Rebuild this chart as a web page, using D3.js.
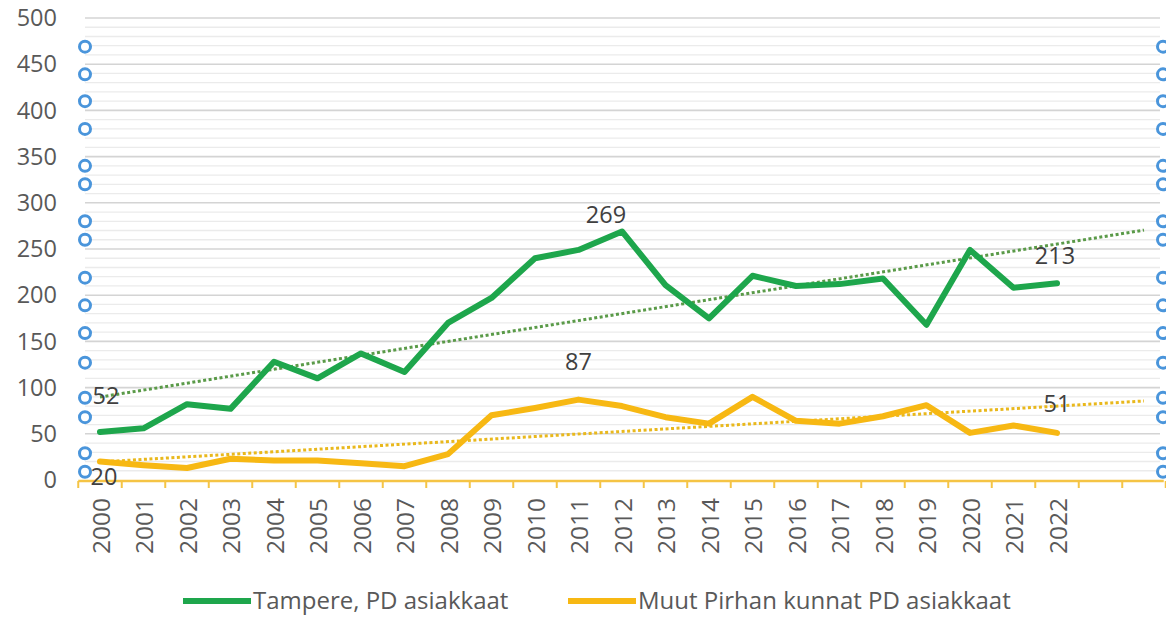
<!DOCTYPE html>
<html><head><meta charset="utf-8">
<script src="https://cdn.jsdelivr.net/npm/d3@7/dist/d3.min.js"></script>
<style>
body{margin:0;background:#fff;}
svg{display:block;font-family:"Open Sans",sans-serif;}
</style></head>
<body><svg id="c" width="1166" height="617"></svg>
<script>
// ---- data ----
const years = ["2000","2001","2002","2003","2004","2005","2006","2007","2008","2009","2010","2011","2012","2013","2014","2015","2016","2017","2018","2019","2020","2021","2022"];
const forecastSlots = ["2023","2024"]; // empty category slots used by trendline forecast
const tampere = [52,56,82,77,128,110,137,117,170,197,240,249,269,211,175,221,210,212,218,168,249,208,213];
const muut = [20,16,13,23,21,21,18,15,28,70,78,87,80,68,61,90,64,61,69,81,51,59,51];
const yTicks = [0,50,100,150,200,250,300,350,400,450,500];
const seriesNames = ["Tampere, PD asiakkaat","Muut Pirhan kunnat PD asiakkaat"];
const seriesColors = ["#1ea64c","#f7b813"];
const trendColors = ["#5a9a48","#e9b81c"];
// odd circle markers along both edges (values on the y scale)
const edgeMarks = [469,439,410,380,340,320,280,260,219,189,159,127,89,68,29,9];
// data labels: series index, year index, label dx/dy offsets
const labelPts = [
  {s:0,i:0,dx:6,dy:-36},
  {s:1,i:0,dx:4,dy:15},
  {s:0,i:12,dx:-16,dy:-17},
  {s:1,i:11,dx:0,dy:-38},
  {s:0,i:22,dx:-2,dy:-27},
  {s:1,i:22,dx:0,dy:-29}
];

const svg = d3.select("#c");
const allCats = years.concat(forecastSlots);
const x = d3.scaleBand().domain(allCats).range([78.25, 78.25 + 43.5*allCats.length]);
const cx = d => x(d) + x.bandwidth()/2;
const y = d3.scaleLinear().domain([0,500]).range([480,18]);

// gridlines
const minor = d3.range(0,501,10).filter(v => v % 50 !== 0);
svg.append("g").selectAll("line").data(minor).join("line")
  .attr("x1",85).attr("x2",1160).attr("y1",d=>y(d)).attr("y2",d=>y(d))
  .attr("stroke","#ebebeb").attr("stroke-width",1.3);
svg.append("g").selectAll("line").data(yTicks.filter(v=>v>0)).join("line")
  .attr("x1",85).attr("x2",1160).attr("y1",d=>y(d)).attr("y2",d=>y(d))
  .attr("stroke","#d4d4d4").attr("stroke-width",1.6);

// y axis labels
svg.append("g").selectAll("text").data(yTicks).join("text")
  .attr("x",57).attr("y",d=>y(d)).attr("dy","0.35em")
  .attr("text-anchor","end").attr("font-size",23.5).attr("fill","#595959")
  .text(d=>d);

// x axis
const xAxis = svg.append("g").attr("transform","translate(0,481)");
xAxis.append("line").attr("x1",x.range()[0]).attr("x2",x.range()[1]-2)
  .attr("stroke","#f5c445").attr("stroke-width",2.5);
xAxis.selectAll("line.tk").data(allCats.concat(["end"])).join("line").attr("class","tk")
  .attr("x1",(d,i)=>x.range()[0]+i*x.step()).attr("x2",(d,i)=>x.range()[0]+i*x.step())
  .attr("y1",0).attr("y2",7).attr("stroke","#f5c445").attr("stroke-width",2);
xAxis.selectAll("text").data(years).join("text")
  .attr("transform",d=>`translate(${cx(d)+1},17) rotate(-90)`)
  .attr("text-anchor","end").attr("dy","0.35em")
  .attr("font-size",24.5).attr("fill","#595959").text(d=>d);

// trendlines (linear regression, forecast 2 periods)
function trend(vals){
  const n = vals.length, xs = d3.range(n);
  const mx = d3.mean(xs), my = d3.mean(vals);
  const b = d3.sum(xs,(v,i)=>(v-mx)*(vals[i]-my))/d3.sum(xs,v=>(v-mx)*(v-mx));
  const a = my - b*mx;
  return [[0,a],[allCats.length-1,a+b*(allCats.length-1)]];
}
[tampere,muut].forEach((vals,s)=>{
  const t = trend(vals);
  svg.append("line")
    .attr("x1",cx(allCats[t[0][0]])).attr("y1",y(t[0][1]))
    .attr("x2",cx(allCats[t[1][0]])).attr("y2",y(t[1][1]))
    .attr("stroke",trendColors[s]).attr("stroke-width",3)
    .attr("stroke-dasharray","3,2.5");
});

// series lines
const line = d3.line().x((d,i)=>cx(years[i])).y(d=>y(d)).curve(d3.curveLinear);
[muut,tampere].forEach((vals)=>{
  const s = vals===tampere?0:1;
  svg.append("path").attr("d",line(vals)).attr("fill","none")
    .attr("stroke",seriesColors[s]).attr("stroke-width",6)
    .attr("stroke-linejoin","round").attr("stroke-linecap","round");
});

// edge circles
[85,1163].forEach(ex=>{
  svg.append("g").selectAll("circle").data(edgeMarks).join("circle")
    .attr("cx",ex).attr("cy",d=>y(d)).attr("r",5.5)
    .attr("fill","#fff").attr("stroke","#4a95db").attr("stroke-width",3);
});

// data labels
const seriesVals = [tampere,muut];
svg.append("g").selectAll("text").data(labelPts).join("text")
  .attr("x",d=>cx(years[d.i])+d.dx).attr("y",d=>y(seriesVals[d.s][d.i])+d.dy)
  .attr("dy","0.35em").attr("text-anchor","middle")
  .attr("font-size",23.5).attr("fill","#404040")
  .text(d=>seriesVals[d.s][d.i]);

// legend
const leg = [{x:183},{x:568}];
leg.forEach((l,s)=>{
  svg.append("line").attr("x1",l.x).attr("x2",l.x+68).attr("y1",601).attr("y2",601)
    .attr("stroke",seriesColors[s]).attr("stroke-width",6);
  svg.append("text").attr("x",l.x+70).attr("y",609)
    .attr("font-size",24).attr("fill","#595959").text(seriesNames[s]);
});
</script></body></html>
